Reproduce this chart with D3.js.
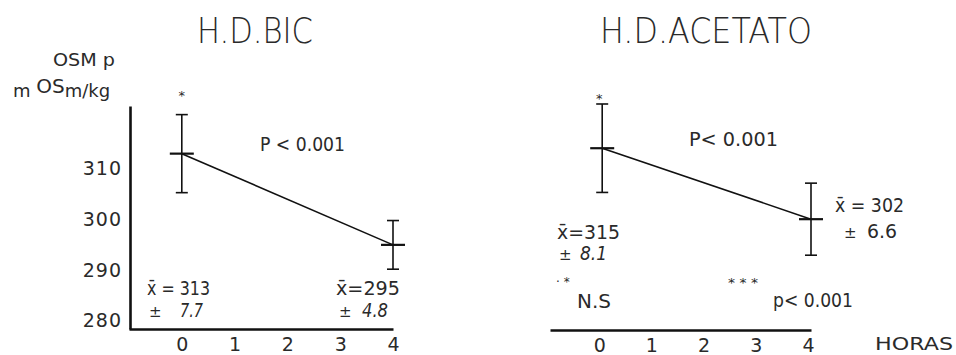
<!DOCTYPE html>
<html>
<head>
<meta charset="utf-8">
<script src="https://cdn.jsdelivr.net/npm/d3@7"></script>
<style>
  html, body { margin: 0; padding: 0; background: #fff; }
  svg { display: block; }
  text { font-family: "DejaVu Sans", sans-serif; fill: #2a2a2a; }
</style>
</head>
<body>
<svg id="chart" width="956" height="355"></svg>
<script>
// Hours after start of dialysis
const hours = [0, 4];
const xTicks = [0, 1, 2, 3, 4];
const yTicks = [280, 290, 300, 310];

// Plasma osmolality (mOsm/kg), bicarbonate dialysis
const bicMean = [313, 295];
const bicSd = [7.7, 4.8];

// Plasma osmolality (mOsm/kg), acetate dialysis
const acetMean = [315, 302];
const acetSd = [8.1, 6.6];

const svg = d3.select("#chart");

const xL = d3.scaleLinear().domain([-1, 4]).range([129, 393]);
const yL = d3.scaleLinear().domain([278.4, 322.4]).range([329, 106]);
const xR = d3.scaleLinear().domain([-1, 4]).range([550, 811]);
const yR = d3.scaleLinear().domain([281.7, 322]).range([330, 110]);

function styleAxis(g) {
  g.select(".domain").attr("stroke", "#111").attr("stroke-width", 2.6);
  g.selectAll("text")
    .attr("font-family", "DejaVu Sans, sans-serif")
    .attr("font-size", 19)
    .attr("fill", "#2a2a2a");
}

// Left panel axes
svg.append("g")
  .attr("transform", `translate(${xL(-1) + 1},0)`)
  .call(d3.axisLeft(yL).tickValues(yTicks).tickSize(0).tickPadding(8).tickFormat(d3.format("d")))
  .call(styleAxis)
  .call(g => g.selectAll("text").attr("letter-spacing", 1));

svg.append("g")
  .attr("transform", `translate(0,${yL.range()[0]})`)
  .call(d3.axisBottom(xL).tickValues(xTicks).tickSize(0).tickPadding(9).tickFormat(d3.format("d")))
  .call(styleAxis);

// Right panel x axis only
svg.append("g")
  .attr("transform", `translate(0,${yR.range()[0]})`)
  .call(d3.axisBottom(xR).tickValues(xTicks).tickSize(0).tickPadding(9).tickFormat(d3.format("d")))
  .call(styleAxis)
  .call(g => g.selectAll(".tick text").attr("dx", -3));

// Mean ± SD markers joined by a line
function drawSeries(x, y, mean, sd) {
  const g = svg.append("g");
  const pts = hours.map((h, i) => ({ h, m: mean[i], s: sd[i] }));
  g.append("path")
    .datum(pts)
    .attr("fill", "none")
    .attr("stroke", "#111")
    .attr("stroke-width", 1.6)
    .attr("d", d3.line().x(d => x(d.h)).y(d => y(d.m)));
  const bars = g.selectAll(".bar").data(pts).join("g").attr("class", "bar");
  bars.append("line")
    .attr("x1", d => x(d.h)).attr("x2", d => x(d.h))
    .attr("y1", d => y(d.m + d.s)).attr("y2", d => y(d.m - d.s))
    .attr("stroke", "#111").attr("stroke-width", 1.6);
  bars.selectAll(".cap").data(d => [d.m + d.s, d.m - d.s].map(v => ({ h: d.h, v })))
    .join("line").attr("class", "cap")
    .attr("x1", d => x(d.h) - 6).attr("x2", d => x(d.h) + 6)
    .attr("y1", d => y(d.v)).attr("y2", d => y(d.v))
    .attr("stroke", "#111").attr("stroke-width", 1.6);
  bars.append("line")
    .attr("x1", d => x(d.h) - 12).attr("x2", d => x(d.h) + 12)
    .attr("y1", d => y(d.m)).attr("y2", d => y(d.m))
    .attr("stroke", "#111").attr("stroke-width", 2.2);
}
drawSeries(xL, yL, bicMean, bicSd);
drawSeries(xR, yR, acetMean, acetSd);

// Text helper
function label(x, y, str, size, opts = {}) {
  const t = svg.append("text")
    .attr("x", x).attr("y", y)
    .attr("font-size", size)
    .text(str);
  if (opts.len) t.attr("textLength", opts.len).attr("lengthAdjust", "spacingAndGlyphs");
  if (opts.weight) t.attr("font-weight", opts.weight);
  if (opts.italic) t.attr("font-style", "italic");
  if (opts.anchor) t.attr("text-anchor", opts.anchor);
  return t;
}

// Titles
label(197, 43, "H.D.BIC", 35, { len: 116, weight: 200 });
label(600, 43, "H.D.ACETATO", 35, { len: 212, weight: 200 });

// Y axis title
label(53, 66, "OSM p", 18, { len: 62 });
const unit = svg.append("text").attr("x", 13).attr("y", 97).attr("font-size", 18);
unit.append("tspan").text("m ");
unit.append("tspan").attr("dy", -4).attr("font-size", 20).text("OS");
unit.append("tspan").attr("dy", 4).text("m/kg");

// Significance marks and p values
label(xL(0), 100, "*", 13, { anchor: "middle" });
label(xR(0) - 3, 103, "*", 13, { anchor: "middle" });
label(260, 151, "P < 0.001", 19, { len: 85 });
label(689, 146, "P< 0.001", 19, { len: 89 });
label(556, 286, "· *", 12);
label(577, 308, "N.S", 19, { len: 34 });
label(728, 287, "* * *", 12, { len: 30 });
label(773, 307, "p< 0.001", 19, { len: 80 });

// Mean ± SD annotations
label(147, 295, `x̄ = ${bicMean[0]}`, 19, { len: 63 });
label(149, 317, "±", 15);
label(180, 317, `${bicSd[0]}`, 19, { italic: true, len: 23 });
label(336, 295, `x̄=${bicMean[1]}`, 19, { len: 64 });
label(339, 317, "±", 15);
label(362, 317, `${bicSd[1]}`, 19, { italic: true, len: 26 });

label(557, 239, `x̄=${acetMean[0]}`, 19, { len: 63 });
label(559, 260, "±", 15);
label(580, 260, `${acetSd[0]}`, 19, { italic: true, len: 27 });
label(835, 212, `x̄ = ${acetMean[1]}`, 19, { len: 69 });
label(844, 238, "±", 15);
label(867, 238, `${acetSd[1]}`, 19, { len: 30 });

// X axis title
label(875, 350, "HORAS", 18, { len: 78 });
</script>
</body>
</html>
